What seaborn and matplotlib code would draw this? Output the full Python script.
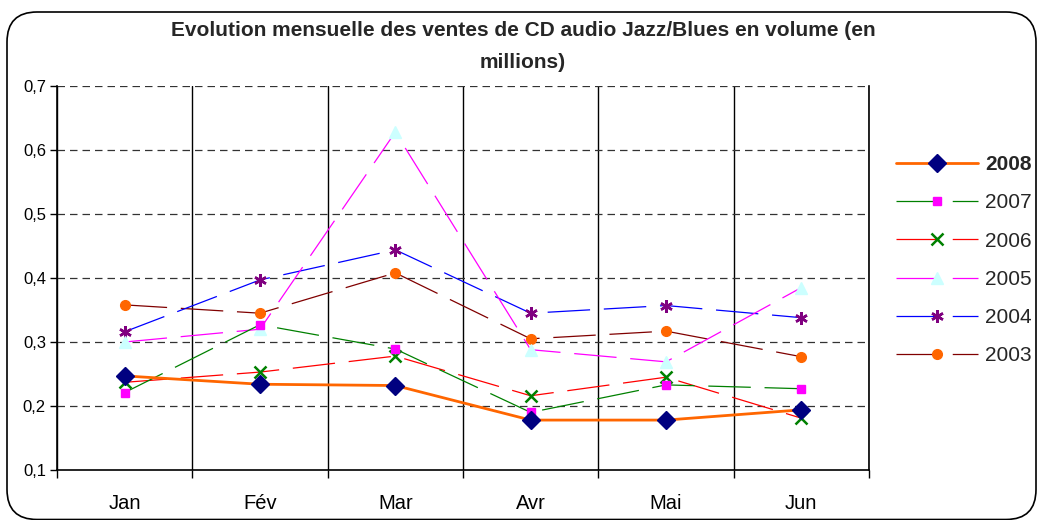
import matplotlib
matplotlib.use("Agg")
import matplotlib.pyplot as plt
import seaborn as sns
import pandas as pd
from matplotlib.patches import FancyBboxPatch
from matplotlib.transforms import IdentityTransform
from matplotlib.ticker import FixedLocator, NullFormatter

months = ["Jan", "Fév", "Mar", "Avr", "Mai", "Jun"]
years = ["2008", "2007", "2006", "2005", "2004", "2003"]
v2008 = [0.247, 0.234, 0.232, 0.178, 0.178, 0.194]
v2007 = [0.221, 0.327, 0.289, 0.190, 0.233, 0.227]
v2006 = [0.237, 0.253, 0.278, 0.216, 0.245, 0.181]
v2005 = [0.300, 0.320, 0.628, 0.288, 0.269, 0.385]
v2004 = [0.316, 0.397, 0.444, 0.345, 0.357, 0.338]
v2003 = [0.358, 0.345, 0.408, 0.305, 0.317, 0.277]
values = {"2008": v2008, "2007": v2007, "2006": v2006,
          "2005": v2005, "2004": v2004, "2003": v2003}

rows = []
for y in years:
    for i, m in enumerate(months):
        rows.append({"year": y, "pos": i, "month": m, "value": values[y][i]})
df = pd.DataFrame(rows)

sns.set_theme(style="white")
plt.rcParams["font.family"] = ["Liberation Sans", "DejaVu Sans"]

fig = plt.figure(figsize=(10.42, 5.2), dpi=100)
ax = fig.add_axes([57/1042, 1-470/520, (869-57)/1042, (470-86)/520])

dash = (0, (34, 11))
styles = {
    "2008": dict(color="#FF6600", lw=2.0, ls="-", marker="D", ms=9, mfc="#000080", mec="#000080", mew=1),
    "2007": dict(color="#008000", lw=0.9, ls=dash, marker="s", ms=6, mfc="#FF00FF", mec="#FF00FF", mew=1),
    "2006": dict(color="#FF0000", lw=0.9, ls=dash, marker="x", ms=8, mfc="#008000", mec="#008000", mew=1.8),
    "2005": dict(color="#FF00FF", lw=0.9, ls=dash, marker="^", ms=8, mfc="#CCFFFF", mec="#CCFFFF", mew=1),
    "2004": dict(color="#0000FF", lw=0.9, ls=dash, marker=(6, 2, 0), ms=9, mfc="#800080", mec="#800080", mew=1.8),
    "2003": dict(color="#800000", lw=0.9, ls=dash, marker="o", ms=7, mfc="#FF6600", mec="#FF6600", mew=1),
}

for y in reversed(years):
    st = styles[y]
    sub = df[df["year"] == y]
    sns.lineplot(data=sub, x="pos", y="value", ax=ax, label=y,
                 color=st["color"], linewidth=st["lw"], linestyle=st["ls"],
                 marker=st["marker"], markersize=st["ms"],
                 markerfacecolor=st["mfc"], markeredgecolor=st["mec"],
                 markeredgewidth=st["mew"], zorder=5 if y == "2008" else 3)

ax.set_xlim(-0.5, len(months) - 0.5)
ax.set_ylim(0.1, 0.7)
ax.set_xlabel("")
ax.set_ylabel("")

# x ticks: boundaries (major, unlabeled) and centers (minor, labeled)
ax.xaxis.set_major_locator(FixedLocator([i - 0.5 for i in range(len(months) + 1)]))
ax.xaxis.set_major_formatter(NullFormatter())
ax.xaxis.set_minor_locator(FixedLocator(list(range(len(months)))))
ax.set_xticklabels(months, minor=True)
ax.tick_params(axis="x", which="major", direction="out", length=6, width=1, color="black", bottom=True)
ax.tick_params(axis="x", which="minor", length=0, labelsize=14.5, pad=17, labelcolor="black")

yt = [0.1, 0.2, 0.3, 0.4, 0.5, 0.6, 0.7]
ax.set_yticks(yt)
ax.set_yticklabels([f"{t:.1f}".replace(".", ",") for t in yt])
ax.tick_params(axis="y", direction="out", length=5, width=1, color="black", left=True,
               labelsize=12, labelcolor="black", pad=3)

ax.grid(False)
for t in yt[1:]:
    ax.axhline(t, color="#333333", lw=0.9, ls=(0, (6, 4)), zorder=1)
ax.grid(axis="x", which="major", color="black", lw=1, ls="-", zorder=1)

ax.spines["top"].set_visible(False)
for s in ["left", "bottom", "right"]:
    ax.spines[s].set_visible(True)
    ax.spines[s].set_color("black")
    ax.spines[s].set_linewidth(1.2)

handles, labels = ax.get_legend_handles_labels()
order = [labels.index(y) for y in years]
leg = fig.legend([handles[i] for i in order], [labels[i] for i in order],
                 loc="upper left", bbox_to_anchor=(888/1042, 1-147/520),
                 frameon=False, fontsize=15, handlelength=3.9, handletextpad=0.35,
                 labelspacing=0.92, borderaxespad=0)
if ax.get_legend():
    ax.get_legend().remove()
for txt in leg.get_texts():
    if txt.get_text() == "2008":
        txt.set_fontweight("bold")

fig.text(523/1042, 1-21/520,
         "Evolution mensuelle des ventes de CD audio Jazz/Blues en volume (en\nmillions)",
         ha="center", va="top", fontsize=15, fontweight="bold", linespacing=1.85)

border = FancyBboxPatch((7, 0.5), 1029, 507.5, boxstyle="round,pad=0,rounding_size=30",
                        transform=IdentityTransform(), fill=False, ec="black", lw=1.2)
fig.patches.append(border)

fig.savefig("out.png", dpi=100)
